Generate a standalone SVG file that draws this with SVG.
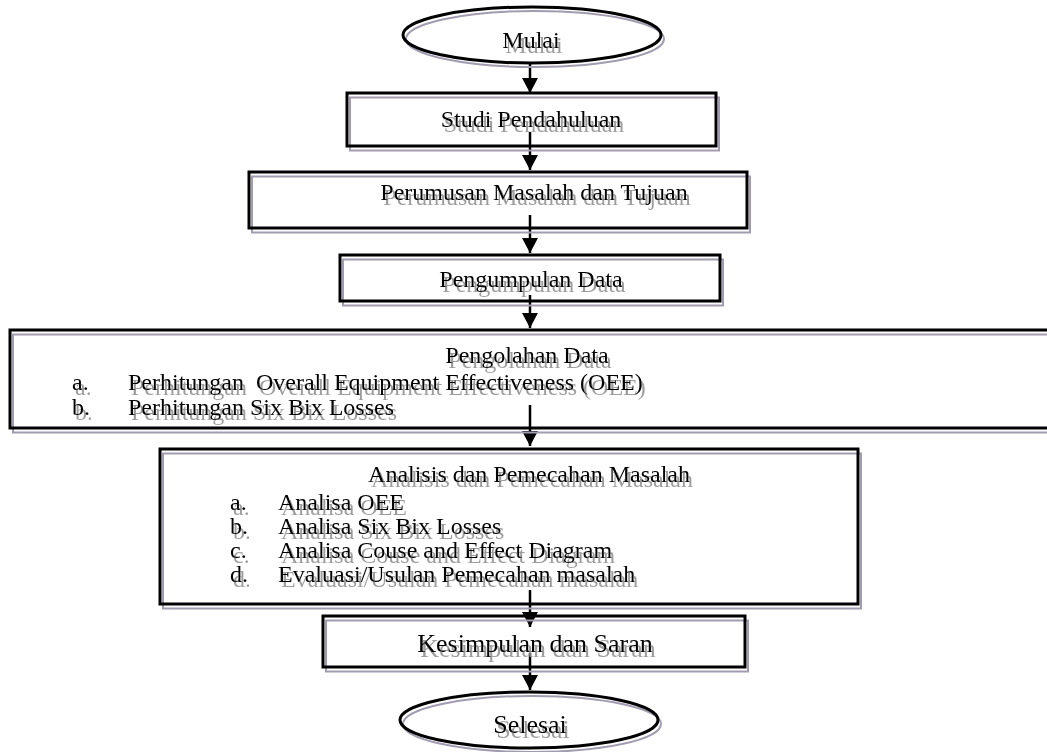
<svg xmlns="http://www.w3.org/2000/svg" width="1047" height="752" viewBox="0 0 1047 752">
<defs>
<style>
.box{fill:none;stroke:#000;stroke-width:3}
.sh{fill:none;stroke:#a29cb0;stroke-width:2}
.t{font-family:"Liberation Serif","Times New Roman",serif;font-size:24px;fill:#000;filter:url(#ts)}
.c{text-anchor:middle}
.big{font-size:26px}
.con{stroke:#000;stroke-width:2.5;fill:none;marker-end:url(#ah)}
</style>
<filter id="ts" x="-5%" y="-30%" width="110%" height="170%">
<feOffset in="SourceAlpha" dx="3" dy="5" result="o"/>
<feFlood flood-color="#8c8c8c" flood-opacity="0.85"/>
<feComposite in2="o" operator="in" result="s"/>
<feMerge><feMergeNode in="s"/><feMergeNode in="SourceGraphic"/></feMerge>
</filter>
<marker id="ah" markerUnits="userSpaceOnUse" markerWidth="16" markerHeight="16" viewBox="0 0 16 16" refX="15" refY="8" orient="auto">
<path d="M0,0 L15,8 L0,16 Z" fill="#000"/>
</marker>
</defs>
<rect width="1047" height="752" fill="#fff"/>

<g id="connectors">
<line class="con" x1="530" y1="63" x2="530" y2="93"/>
<line class="con" x1="530" y1="132" x2="530" y2="170"/>
<line class="con" x1="530" y1="215" x2="530" y2="253"/>
<line class="con" x1="530" y1="295" x2="530" y2="328"/>
<line class="con" x1="530" y1="405" x2="530" y2="446"/>
<line class="con" x1="530" y1="590" x2="530" y2="627"/>
<line class="con" x1="530" y1="653" x2="530" y2="690"/>
</g>

<g id="mulai">
<ellipse class="sh" cx="535" cy="39" rx="129" ry="28"/>
<ellipse class="box" cx="532" cy="35" rx="129" ry="28"/>
<text class="t c" x="531" y="48">Mulai</text>
</g>

<g id="studi">
<rect class="sh" x="350" y="97.5" width="369" height="53"/>
<rect class="box" x="347" y="93" width="369" height="53"/>
<text class="t c" x="531" y="127">Studi Pendahuluan</text>
</g>

<g id="perumusan">
<rect class="sh" x="252" y="176.5" width="498" height="56"/>
<rect class="box" x="249" y="172" width="498" height="56"/>
<text class="t c" x="534" y="200">Perumusan Masalah dan Tujuan</text>
</g>

<g id="pengumpulan">
<rect class="sh" x="343" y="259.5" width="380" height="46"/>
<rect class="box" x="340" y="255" width="380" height="46"/>
<text class="t c" x="531" y="287">Pengumpulan Data</text>
</g>

<g id="pengolahan">
<rect class="sh" x="13" y="334.5" width="1060" height="98"/>
<rect class="box" x="10" y="330" width="1060" height="98"/>
<text class="t c" x="527" y="363">Pengolahan Data</text>
<text class="t" x="72" y="390">a.</text>
<text class="t" x="128" y="390" xml:space="preserve">Perhitungan  Overall Equipment Effectiveness (OEE)</text>
<text class="t" x="72" y="415">b.</text>
<text class="t" x="128" y="415">Perhitungan Six Bix Losses</text>
</g>

<g id="analisis">
<rect class="sh" x="163" y="453.5" width="698" height="155"/>
<rect class="box" x="160" y="449" width="698" height="155"/>
<text class="t c" x="529" y="482">Analisis dan Pemecahan Masalah</text>
<text class="t" x="230" y="510">a.</text>
<text class="t" x="278" y="510">Analisa OEE</text>
<text class="t" x="230" y="534">b.</text>
<text class="t" x="278" y="534">Analisa Six Bix Losses</text>
<text class="t" x="230" y="558">c.</text>
<text class="t" x="278" y="558">Analisa Couse and Effect Diagram</text>
<text class="t" x="230" y="582">d.</text>
<text class="t" x="278" y="582">Evaluasi/Usulan Pemecahan masalah</text>
</g>

<g id="kesimpulan">
<rect class="sh" x="326" y="620.5" width="422" height="51"/>
<rect class="box" x="323" y="616" width="422" height="51"/>
<text class="t c big" x="535" y="652">Kesimpulan dan Saran</text>
</g>

<g id="selesai">
<ellipse class="sh" cx="532" cy="724" rx="129" ry="28"/>
<ellipse class="box" cx="529" cy="720" rx="129" ry="28"/>
<text class="t c big" x="530" y="733">Selesai</text>
</g>
</svg>
